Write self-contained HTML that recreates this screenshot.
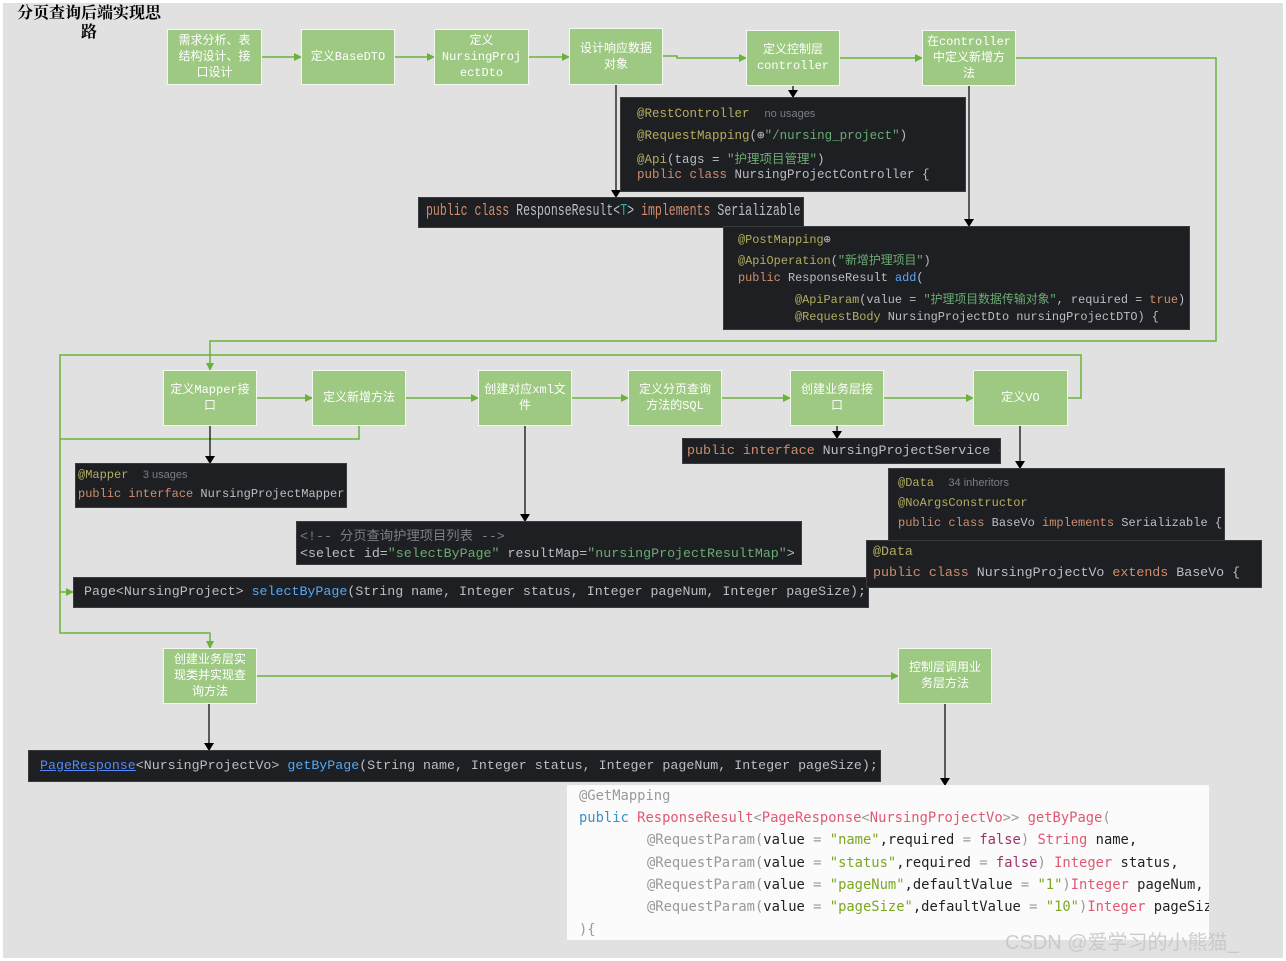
<!DOCTYPE html>
<html><head><meta charset="utf-8"><style>
*{margin:0;padding:0;box-sizing:border-box}
body{width:1286px;height:961px;background:#fff;position:relative;overflow:hidden;font-family:"Liberation Sans","Noto Sans CJK SC",sans-serif}
#bg{position:absolute;left:3px;top:3px;width:1280px;height:955px;background:#e1e1e1}
.b{position:absolute;background:#9dc983;border:1px solid #f4f9f0;color:#fff;font-size:12px;line-height:16px;text-align:center;display:flex;align-items:center;justify-content:center;padding:2px 3px;font-family:"Liberation Mono","Noto Sans CJK SC",monospace;word-break:break-all}
.b span{display:block;width:100%}
.c{position:absolute;background:#1e1f22;border:1px solid #3a3b3f;color:#bcbec4;font-family:"Liberation Mono","DejaVu Sans Mono",monospace;white-space:pre;overflow:hidden}
.c div{position:absolute;left:0}
.k{color:#cf8e6d}.a{color:#b3ae60}.s{color:#6aab73}.m{color:#56a8f5}.g{color:#7a7e85;font-family:"Liberation Sans",sans-serif;font-size:11px}
.w{position:absolute;background:#fbfbfb;font-family:"DejaVu Sans Mono",monospace;font-size:13.8px;white-space:pre;overflow:hidden;color:#222}
.w div{position:absolute;left:12px}
.gr{color:#999}.bl{color:#3a8fc4}.rd{color:#e05873}.gn{color:#7aa822}.pu{color:#a0306a}
svg{position:absolute;left:0;top:0}
</style></head><body>
<div id="bg"></div>
<div style="position:absolute;left:14px;top:4px;width:150px;text-align:center;font-weight:bold;font-size:16px;line-height:19px;font-family:'Liberation Serif','Noto Serif CJK SC',serif;word-break:break-all">分页查询后端实现思路</div>

<svg width="1286" height="961">
<defs>
<marker id="ga" markerWidth="8" markerHeight="8" refX="7" refY="4" orient="auto" markerUnits="userSpaceOnUse"><path d="M0,0 L8,4 L0,8z" fill="#6ab33a"/></marker>
<marker id="ka" markerWidth="8" markerHeight="10" refX="7" refY="5" orient="auto" markerUnits="userSpaceOnUse"><path d="M0,0 L8,5 L0,10z" fill="#000"/></marker>
</defs>
<g stroke="#6ab33a" stroke-width="1.5" fill="none" marker-end="url(#ga)">
<path d="M262,57 H301"/><path d="M395,57 H434"/><path d="M529,57 H569"/>
<path d="M663,56 H677 V58 H746"/><path d="M840,58 H922"/>
<path d="M1016,58 H1216 V341 H210 V370"/>
<path d="M257,398 H312"/><path d="M406,398 H478"/><path d="M572,398 H628"/><path d="M722,398 H790"/><path d="M884,398 H973"/>
<path d="M1068,398 H1081 V355 H60 V592 H73"/>
<path d="M60,592 V633 H210 V648"/>
<path d="M257,676 H898"/>
</g>
<path d="M359,426 V439 H60" stroke="#6ab33a" stroke-width="1.5" fill="none"/>
<g stroke="#000" stroke-width="1.2" fill="none" marker-end="url(#ka)">
<path d="M616,85 V197"/><path d="M793,86 V97"/><path d="M969,86 V226"/>
<path d="M210,426 V463"/><path d="M525,426 V521"/><path d="M837,426 V438"/><path d="M1020,426 V468"/>
<path d="M209,704 V750"/><path d="M945,704 V785"/>
</g>
</svg>

<div class="b" style="left:167px;top:29px;width:95px;height:56px"><span>需求分析、表<br>结构设计、接<br>口设计</span></div>
<div class="b" style="left:301px;top:29px;width:94px;height:56px"><span>定义BaseDTO</span></div>
<div class="b" style="left:434px;top:29px;width:95px;height:56px"><span>定义<br>NursingProj<br>ectDto</span></div>
<div class="b" style="left:569px;top:28px;width:94px;height:57px"><span>设计响应数据<br>对象</span></div>
<div class="b" style="left:746px;top:30px;width:94px;height:56px"><span>定义控制层<br>controller</span></div>
<div class="b" style="left:922px;top:30px;width:94px;height:56px"><span>在controller<br>中定义新增方<br>法</span></div>
<div class="b" style="left:163px;top:370px;width:94px;height:56px"><span>定义Mapper接<br>口</span></div>
<div class="b" style="left:312px;top:370px;width:94px;height:56px"><span>定义新增方法</span></div>
<div class="b" style="left:478px;top:370px;width:94px;height:56px"><span>创建对应xml文<br>件</span></div>
<div class="b" style="left:628px;top:370px;width:94px;height:56px"><span>定义分页查询<br>方法的SQL</span></div>
<div class="b" style="left:790px;top:370px;width:94px;height:56px"><span>创建业务层接<br>口</span></div>
<div class="b" style="left:973px;top:370px;width:95px;height:56px"><span>定义VO</span></div>
<div class="b" style="left:163px;top:648px;width:94px;height:56px"><span>创建业务层实<br>现类并实现查<br>询方法</span></div>
<div class="b" style="left:898px;top:648px;width:94px;height:56px"><span>控制层调用业<br>务层方法</span></div>

<div class="c" style="left:620px;top:97px;width:346px;height:95px;font-size:12.5px">
<div style="left:16px;top:9px"><span class="a">@RestController</span>  <span class="g">no usages</span></div>
<div style="left:16px;top:29px"><span class="a">@RequestMapping</span>(⊕<span class="s">"/nursing_project"</span>)</div>
<div style="left:16px;top:50px"><span class="a">@Api</span>(tags = <span class="s">"护理项目管理"</span>)</div>
<div style="left:16px;top:70px"><span class="k">public class</span> NursingProjectController {</div>
</div>
<div class="c" style="left:418px;top:197px;width:386px;height:31px;font-size:17px">
<div style="left:7px;top:4px;transform:scaleX(0.68);transform-origin:0 0"><span class="k">public class</span> ResponseResult&lt;<span style="color:#16baac">T</span>&gt; <span class="k">implements</span> Serializable {</div>
</div>
<div class="c" style="left:723px;top:226px;width:467px;height:104px;font-size:11.9px">
<div style="left:14px;top:5px"><span class="a">@PostMapping</span>⊕</div>
<div style="left:14px;top:24px"><span class="a">@ApiOperation</span>(<span class="s">"新增护理项目"</span>)</div>
<div style="left:14px;top:44px"><span class="k">public</span> ResponseResult <span class="m">add</span>(</div>
<div style="left:71px;top:63px"><span class="a">@ApiParam</span>(value = <span class="s">"护理项目数据传输对象"</span>, required = <span class="k">true</span>)</div>
<div style="left:71px;top:83px"><span class="a">@RequestBody</span> NursingProjectDto nursingProjectDTO) {</div>
</div>
<div class="c" style="left:75px;top:463px;width:272px;height:45px;font-size:12px">
<div style="left:2px;top:4px"><span class="a">@Mapper</span>  <span class="g">3 usages</span></div>
<div style="left:2px;top:23px"><span class="k">public interface</span> NursingProjectMapper</div>
</div>
<div class="c" style="left:296px;top:521px;width:506px;height:44px;font-size:13.3px">
<div style="left:3px;top:3px;color:#7a7e85">&lt;!-- 分页查询护理项目列表 --&gt;</div>
<div style="left:3px;top:24px">&lt;select id=<span class="s">"selectByPage"</span> resultMap=<span class="s">"nursingProjectResultMap"</span>&gt;</div>
</div>
<div class="c" style="left:73px;top:577px;width:796px;height:31px;font-size:13.3px">
<div style="left:10px;top:6px">Page&lt;NursingProject&gt; <span class="m">selectByPage</span>(String name, Integer status, Integer pageNum, Integer pageSize);</div>
</div>
<div class="c" style="left:682px;top:438px;width:319px;height:26px;font-size:13.3px">
<div style="left:4px;top:4px"><span class="k">public interface</span> NursingProjectService {</div>
</div>
<div class="c" style="left:888px;top:468px;width:337px;height:73px;font-size:12px">
<div style="left:9px;top:7px"><span class="a">@Data</span>  <span class="g">34 inheritors</span></div>
<div style="left:9px;top:27px"><span class="a">@NoArgsConstructor</span></div>
<div style="left:9px;top:47px"><span class="k">public class</span> BaseVo <span class="k">implements</span> Serializable {</div>
</div>
<div class="c" style="left:866px;top:540px;width:396px;height:48px;font-size:13.3px">
<div style="left:6px;top:3px"><span class="a">@Data</span></div>
<div style="left:6px;top:24px"><span class="k">public class</span> NursingProjectVo <span class="k">extends</span> BaseVo {</div>
</div>
<div class="c" style="left:28px;top:750px;width:853px;height:32px;font-size:13.3px">
<div style="left:11px;top:7px"><span style="color:#548af7;text-decoration:underline">PageResponse</span>&lt;NursingProjectVo&gt; <span class="m">getByPage</span>(String name, Integer status, Integer pageNum, Integer pageSize);</div>
</div>
<div class="w" style="left:567px;top:785px;width:642px;height:155px">
<div style="top:3px" class="gr">@GetMapping</div>
<div style="top:25px"><span class="bl">public</span> <span class="rd">ResponseResult</span><span class="gr">&lt;</span><span class="rd">PageResponse</span><span class="gr">&lt;</span><span class="rd">NursingProjectVo</span><span class="gr">&gt;&gt;</span> <span class="rd">getByPage</span><span class="gr">(</span></div>
<div style="top:47px;left:80px"><span class="gr">@RequestParam(</span>value <span class="gr">=</span> <span class="gn">"name"</span>,required <span class="gr">=</span> <span class="pu">false</span><span class="gr">)</span> <span class="rd">String</span> name,</div>
<div style="top:70px;left:80px"><span class="gr">@RequestParam(</span>value <span class="gr">=</span> <span class="gn">"status"</span>,required <span class="gr">=</span> <span class="pu">false</span><span class="gr">)</span> <span class="rd">Integer</span> status,</div>
<div style="top:92px;left:80px"><span class="gr">@RequestParam(</span>value <span class="gr">=</span> <span class="gn">"pageNum"</span>,defaultValue <span class="gr">=</span> <span class="gn">"1"</span><span class="gr">)</span><span class="rd">Integer</span> pageNum,</div>
<div style="top:114px;left:80px"><span class="gr">@RequestParam(</span>value <span class="gr">=</span> <span class="gn">"pageSize"</span>,defaultValue <span class="gr">=</span> <span class="gn">"10"</span><span class="gr">)</span><span class="rd">Integer</span> pageSize</div>
<div style="top:137px" class="gr">){</div>
</div>
<div style="position:absolute;left:1005px;top:926px;font-size:20px;color:rgba(200,200,200,0.9);white-space:nowrap">CSDN @爱学习的小熊猫_</div>
</body></html>
